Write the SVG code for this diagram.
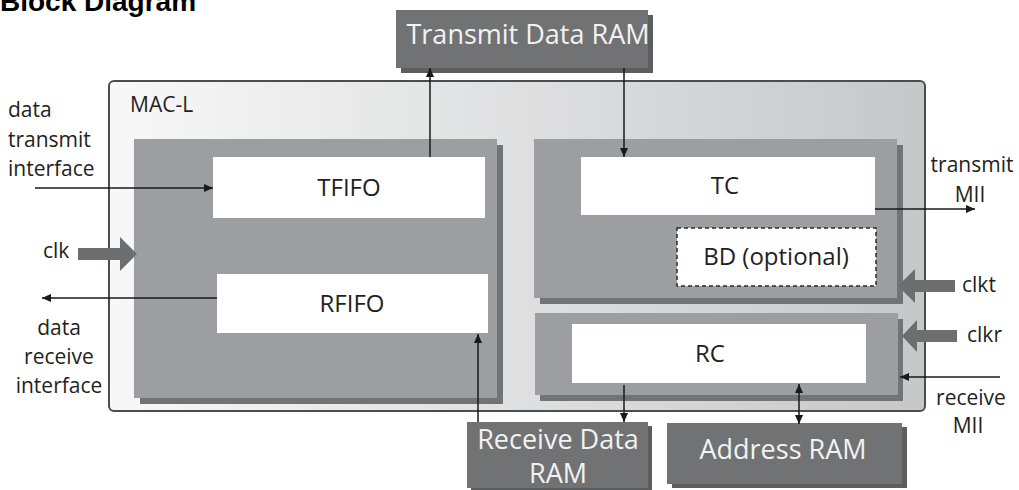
<svg xmlns="http://www.w3.org/2000/svg" width="1019" height="490" viewBox="0 0 1019 490">
<style>
.lbl{font-family:"Open Sans","Liberation Sans",sans-serif;font-size:21px;fill:#231f20}
.in{font-family:"Open Sans","Liberation Sans",sans-serif;font-size:24px;fill:#231f20;text-anchor:middle}
.ram{font-family:"Open Sans","Liberation Sans",sans-serif;font-size:27px;fill:#f2f2f2;text-anchor:middle}
.blk{fill:#9d9ea1}
.sh{fill:#727376}
.white{fill:#ffffff}
.dram{fill:#717273}
.dsh{fill:#5c5d5e}
.con{stroke:#1a1a1a;stroke-width:1.5;fill:none}
.clkarr{fill:#6d6e70}
</style>
<defs>
<linearGradient id="bg" x1="0" y1="0" x2="1" y2="0">
<stop offset="0" stop-color="#f8f8f8"/>
<stop offset="1" stop-color="#c6c7c9"/>
</linearGradient>
<marker id="ah" viewBox="0 0 10 10" refX="10" refY="5" markerWidth="9" markerHeight="9" markerUnits="userSpaceOnUse" orient="auto-start-reverse">
<path d="M0,0.5 L10,5 L0,9.5 z" fill="#1a1a1a"/>
</marker>
</defs>
<rect width="1019" height="490" fill="#ffffff"/>
<text x="0" y="11" font-family="Liberation Sans, Arial, sans-serif" font-size="28" font-weight="bold" fill="#000">Block Diagram</text>

<g id="transmit-data-ram">
<rect class="dsh" x="401" y="15" width="252" height="58"/>
<rect class="dram" x="396" y="10" width="252" height="58"/>
<text class="ram" x="528" y="44">Transmit Data RAM</text>
</g>

<g id="mac-l">
<rect x="109" y="81" width="816" height="330" rx="5" fill="url(#bg)" stroke="#4d4d4f" stroke-width="2"/>
<text class="lbl" x="130" y="112" font-size="24">MAC-L</text>
</g>

<g id="fifo-block">
<rect class="sh" x="140" y="145" width="363" height="259"/>
<rect class="blk" x="134" y="139" width="363" height="259"/>
</g>
<g id="tfifo">
<rect class="white" x="213" y="157" width="272" height="61"/>
<text class="in" x="349" y="196">TFIFO</text>
</g>
<g id="rfifo">
<rect class="white" x="217" y="274" width="271" height="59"/>
<text class="in" x="352" y="312">RFIFO</text>
</g>

<g id="tc-block">
<rect class="sh" x="540" y="145" width="363" height="159"/>
<rect class="blk" x="534" y="139" width="363" height="159"/>
</g>
<g id="tc">
<rect class="white" x="581" y="157" width="294" height="58"/>
<text class="in" x="725" y="194">TC</text>
</g>
<g id="bd">
<rect class="white" x="677" y="228" width="199" height="58" stroke="#2b2b2b" stroke-width="1.5" stroke-dasharray="4,3"/>
<text class="in" x="776" y="265">BD (optional)</text>
</g>

<g id="rc-block">
<rect class="sh" x="540" y="319" width="363" height="82"/>
<rect class="blk" x="535" y="313" width="363" height="82"/>
</g>
<g id="rc">
<rect class="white" x="572" y="324" width="294" height="59"/>
<text class="in" x="710" y="362">RC</text>
</g>

<g id="receive-data-ram">
<rect class="dsh" x="471" y="426" width="181" height="66"/>
<rect class="dram" x="467" y="422" width="181" height="66"/>
<text class="ram" x="558" y="449">Receive Data</text>
<text class="ram" x="558" y="483">RAM</text>
</g>

<g id="address-ram">
<rect class="dsh" x="672" y="427" width="235" height="61"/>
<rect class="dram" x="667" y="423" width="235" height="61"/>
<text class="ram" x="783" y="459">Address RAM</text>
</g>

<g id="clock-arrows">
<polygon class="clkarr" points="78,248 120,248 120,237 137,254 120,271 120,260 78,260"/>
<polygon class="clkarr" points="955,280 915,280 915,269 898,286 915,303 915,292 955,292"/>
<polygon class="clkarr" points="957,330 917,330 917,320 902,336 917,352 917,342 957,342"/>
</g>

<g id="connectors">
<line class="con" x1="430" y1="157" x2="430" y2="68" marker-end="url(#ah)"/>
<line class="con" x1="624" y1="68" x2="624" y2="157" marker-end="url(#ah)"/>
<line class="con" x1="35" y1="188" x2="213" y2="188" marker-end="url(#ah)"/>
<line class="con" x1="217" y1="298" x2="42" y2="298" marker-end="url(#ah)"/>
<line class="con" x1="478" y1="422" x2="478" y2="334" marker-end="url(#ah)"/>
<line class="con" x1="624" y1="385" x2="624" y2="422" marker-end="url(#ah)"/>
<line class="con" x1="799" y1="384" x2="799" y2="424" marker-start="url(#ah)" marker-end="url(#ah)"/>
<line class="con" x1="875" y1="209" x2="975" y2="209" marker-end="url(#ah)"/>
<line class="con" x1="1000" y1="377" x2="900" y2="377" marker-end="url(#ah)"/>
</g>

<g id="labels">
<text class="lbl" x="8" y="117">data</text>
<text class="lbl" x="8" y="147">transmit</text>
<text class="lbl" x="8" y="176">interface</text>
<text class="lbl" x="43" y="258">clk</text>
<text class="lbl" x="59" y="335" text-anchor="middle">data</text>
<text class="lbl" x="59" y="364" text-anchor="middle">receive</text>
<text class="lbl" x="59" y="393" text-anchor="middle">interface</text>
<text class="lbl" x="972" y="172" text-anchor="middle">transmit</text>
<text class="lbl" x="970" y="202" text-anchor="middle">MII</text>
<text class="lbl" x="962" y="292">clkt</text>
<text class="lbl" x="967" y="342">clkr</text>
<text class="lbl" x="971" y="405" text-anchor="middle">receive</text>
<text class="lbl" x="968" y="433" text-anchor="middle">MII</text>
</g>
</svg>
